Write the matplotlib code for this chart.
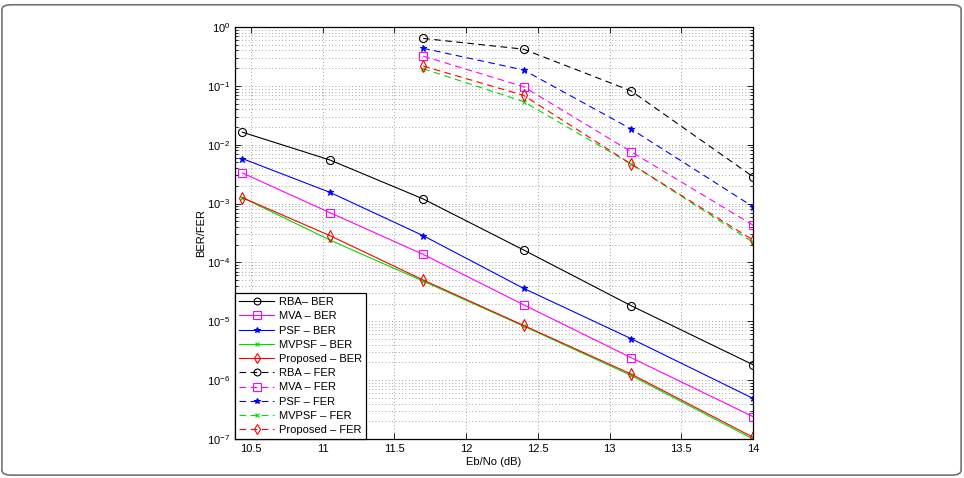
#!/usr/bin/env python3
"""BER/FER versus Eb/No for the decoding schemes."""

import numpy as np
import matplotlib
matplotlib.use("Agg")
import matplotlib.pyplot as plt
from matplotlib.patches import FancyBboxPatch
from matplotlib.ticker import LogLocator, NullFormatter

plt.rcParams["font.family"] = ["Liberation Sans", "DejaVu Sans"]
plt.rcParams["mathtext.fontset"] = "custom"
plt.rcParams["mathtext.rm"] = "Liberation Sans"

ebno_ber = [10.44, 11.05, 11.70, 12.40, 13.15, 14.0]
ebno_fer = [11.70, 12.40, 13.15, 14.0]

rba_ber = [1.63e-2, 5.5e-3, 1.2e-3, 1.63e-4, 1.84e-5, 1.83e-6]
mva_ber = [3.3e-3, 7.0e-4, 1.37e-4, 1.91e-5, 2.41e-6, 2.4e-7]
psf_ber = [5.8e-3, 1.55e-3, 2.85e-4, 3.63e-5, 5.07e-6, 4.9e-7]
mvpsf_ber = [1.26e-3, 2.4e-4, 4.8e-5, 8.3e-6, 1.2e-6, 1.0e-7]
prop_ber = [1.26e-3, 2.85e-4, 5.03e-5, 8.5e-6, 1.27e-6, 1.07e-7]

rba_fer = [0.64, 0.42, 0.082, 2.86e-3]
mva_fer = [0.32, 0.097, 7.6e-3, 4.3e-4]
psf_fer = [0.435, 0.186, 0.0185, 8.85e-4]
mvpsf_fer = [0.196, 0.054, 4.7e-3, 2.2e-4]
prop_fer = [0.217, 0.069, 4.7e-3, 2.4e-4]

labels = ["RBA\u2013 BER", "MVA \u2013 BER", "PSF \u2013 BER", "MVPSF \u2013 BER",
          "Proposed \u2013 BER", "RBA \u2013 FER", "MVA \u2013 FER", "PSF \u2013 FER",
          "MVPSF \u2013 FER", "Proposed \u2013 FER"]
xticks = [10.5, 11, 11.5, 12, 12.5, 13, 13.5, 14]


def main():
    fig = plt.figure(figsize=(9.64, 4.78), dpi=100)
    frame = FancyBboxPatch((0.002, 0.006), 0.995, 0.984, transform=fig.transFigure,
                           boxstyle="round,pad=0,rounding_size=0.01",
                           facecolor="none", edgecolor="0.45", linewidth=1.2)
    fig.patches.append(frame)

    ax = fig.add_axes([235 / 964, 1 - 439 / 478, 518 / 964, 412 / 478])

    styles = [
        ("k", "o", 5.8, "none"),
        ("#ff00ff", "s", 6.2, "none"),
        ("#0000ff", "*", 4.5, "#0000ff"),
        ("#00dd00", "x", 3.0, "#00dd00"),
        ("#ff0000", "d", 5.8, "none"),
    ]
    ber = [rba_ber, mva_ber, psf_ber, mvpsf_ber, prop_ber]
    fer = [rba_fer, mva_fer, psf_fer, mvpsf_fer, prop_fer]

    handles = []
    for (c, m, ms, fc), y in zip(styles, ber):
        h, = ax.semilogy(ebno_ber, y, color=c, marker=m, markersize=ms,
                         markerfacecolor=fc, markeredgecolor=c, linewidth=0.8,
                         markeredgewidth=0.8)
        handles.append(h)
    for (c, m, ms, fc), y in zip(styles, fer):
        h, = ax.semilogy(ebno_fer, y, color=c, marker=m, markersize=ms,
                         markerfacecolor=fc, markeredgecolor=c, linewidth=0.8,
                         markeredgewidth=0.8, linestyle=(0, (6, 4)))
        handles.append(h)

    ax.set_xlim(10.388, 14)
    ax.set_ylim(1e-7, 1)
    ax.set_xticks(xticks)
    ax.set_xticklabels([f"{t:g}" for t in xticks])
    ax.yaxis.set_major_locator(LogLocator(base=10, numticks=10))
    ax.yaxis.set_minor_locator(LogLocator(base=10, subs=np.arange(2, 10), numticks=100))
    ax.yaxis.set_minor_formatter(NullFormatter())

    ax.tick_params(which="both", direction="in", top=True, right=True, labelsize=8,
                   colors="k", width=0.6)
    ax.tick_params(which="major", length=4)
    ax.tick_params(which="minor", length=2)
    ax.grid(True, which="major", linestyle=(0, (1, 3)), color="0.5", linewidth=0.6)
    ax.grid(True, which="minor", axis="y", linestyle=(0, (1, 3)), color="0.55", linewidth=0.6)
    for sp in ax.spines.values():
        sp.set_linewidth(0.9)

    ax.set_xlabel("Eb/No (dB)", fontsize=8, labelpad=2)
    ax.set_ylabel("BER/FER", fontsize=8, labelpad=1)

    leg = ax.legend(handles, labels, loc="lower left", fontsize=8, fancybox=False,
                    framealpha=1, edgecolor="k", borderaxespad=0, handlelength=3.2,
                    labelspacing=0.38, borderpad=0.35, handletextpad=0.4,
                    markerscale=0.85)
    leg.get_frame().set_linewidth(0.9)

    fig.savefig("out.png", dpi=100)


if __name__ == "__main__":
    main()
